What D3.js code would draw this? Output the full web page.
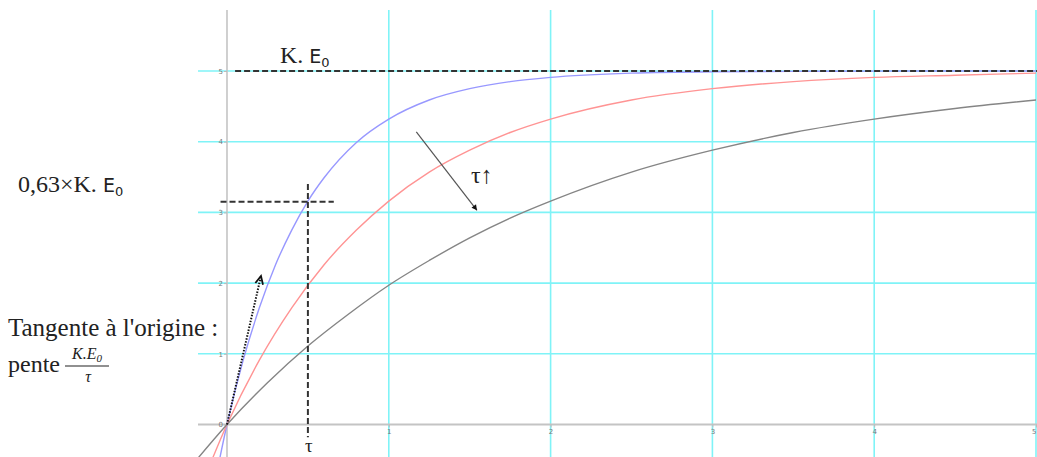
<!DOCTYPE html>
<html>
<head>
<meta charset="utf-8">
<script src="https://cdn.jsdelivr.net/npm/d3@7"></script>
<style>
  html, body { margin: 0; padding: 0; background: #fff; }
  svg { display: block; }
  .serif { font-family: "Liberation Serif", "Times New Roman", serif; fill: #222; }
  .tick text { font-family: "DejaVu Sans", sans-serif; fill: #777; }
</style>
</head>
<body>
<svg id="chart" width="1037" height="457"></svg>
<script>
// Step response u(t) of a first-order system for three time constants
const KE0 = 5;
const tauValues = [0.5, 1, 2];
const curveNames = ["tau05", "tau1", "tau2"];

const tBlue = [-0.1, 0, 0.1, 0.2, 0.3, 0.4, 0.5, 0.6, 0.8, 1, 1.25, 1.5, 1.75, 2, 2.5, 3, 3.5, 4, 4.5, 5];
const vBlue = [-1.11, 0, 0.91, 1.65, 2.26, 2.75, 3.16, 3.49, 3.99, 4.32, 4.59, 4.75, 4.85, 4.91, 4.97, 4.99, 4.995, 4.998, 5, 5];

const tRed = [-0.2, 0, 0.2, 0.4, 0.6, 0.8, 1, 1.25, 1.5, 1.75, 2, 2.5, 3, 3.5, 4, 4.5, 5];
const vRed = [-1.11, 0, 0.91, 1.65, 2.26, 2.75, 3.16, 3.57, 3.88, 4.13, 4.32, 4.59, 4.75, 4.85, 4.91, 4.94, 4.97];

const tGray = [-0.25, 0, 0.25, 0.5, 0.75, 1, 1.25, 1.5, 1.75, 2, 2.5, 3, 3.5, 4, 4.5, 5];
const vGray = [-0.67, 0, 0.59, 1.11, 1.56, 1.97, 2.32, 2.64, 2.92, 3.16, 3.57, 3.88, 4.13, 4.32, 4.47, 4.59];

const xTicks = [0, 1, 2, 3, 4, 5];
const yTicks = [0, 1, 2, 3, 4, 5];

// Annotation anchor values (data units)
const tangentEnd = [0.21, 2.1];
const tauArrow = [[1.17, 4.14], [1.545, 3.03]];
const ratio063 = 0.63;

const svg = d3.select("#chart");
const W = 1037, H = 457;

const x = d3.scaleLinear().domain([0, 5]).range([227, 1036]);
const y = d3.scaleLinear().domain([0, 5]).range([424.5, 71]);

const gridLeft = x.invert(198), gridTop = y.invert(10);

svg.append("defs").append("clipPath").attr("id", "plotclip")
  .append("rect").attr("x", 0).attr("y", 0).attr("width", W).attr("height", H);

// Grid lines
const grid = svg.append("g");
grid.selectAll("line.h").data(yTicks.filter(d => d > 0)).join("line")
  .attr("x1", x(gridLeft)).attr("x2", W)
  .attr("y1", d => y(d)).attr("y2", d => y(d))
  .attr("stroke", "#7ff3f7").attr("stroke-width", 1.6);
grid.selectAll("line.v").data(xTicks.filter(d => d > 0)).join("line")
  .attr("x1", d => x(d)).attr("x2", d => x(d))
  .attr("y1", y(gridTop)).attr("y2", H)
  .attr("stroke", "#7ff3f7").attr("stroke-width", 1.6);

// Axes lines
svg.append("line")
  .attr("x1", x(gridLeft)).attr("x2", W).attr("y1", y(0)).attr("y2", y(0))
  .attr("stroke", "#c4c4c4").attr("stroke-width", 2.2);
svg.append("line")
  .attr("x1", x(0)).attr("x2", x(0)).attr("y1", y(gridTop)).attr("y2", H)
  .attr("stroke", "#c4c4c4").attr("stroke-width", 1.6);

// Tick labels
const yAxis = d3.axisLeft(y).tickValues(yTicks).tickSize(3).tickPadding(1).tickFormat(d3.format("d"));
const gy = svg.append("g").attr("transform", `translate(${x(0)},0)`).call(yAxis);
gy.select(".domain").remove();
gy.selectAll(".tick line").attr("stroke", "#bbb");
gy.selectAll(".tick text").attr("font-size", 7);

const xAxis = d3.axisBottom(x).tickValues(xTicks.filter(d => d > 0)).tickSize(3).tickPadding(2).tickFormat(d3.format("d"));
const gx = svg.append("g").attr("transform", `translate(0,${y(0)})`).call(xAxis);
gx.select(".domain").remove();
gx.selectAll(".tick line").attr("stroke", "#bbb");
gx.selectAll(".tick text").attr("font-size", 7)
  .attr("text-anchor", d => d === xTicks[xTicks.length - 1] ? "end" : "middle");

// Curves
const line = d3.line().x(d => x(d[0])).y(d => y(d[1])).curve(d3.curveMonotoneX);
const series = [
  { name: curveNames[0], pts: d3.zip(tBlue, vBlue), color: "#9898ff" },
  { name: curveNames[1], pts: d3.zip(tRed, vRed), color: "#ff9494" },
  { name: curveNames[2], pts: d3.zip(tGray, vGray), color: "#858585" }
];
svg.append("g").attr("clip-path", "url(#plotclip)")
  .selectAll("path").data(series).join("path")
  .attr("d", d => line(d.pts))
  .attr("fill", "none").attr("stroke", d => d.color).attr("stroke-width", 1.4);

// Dashed reference lines
const dash = svg.append("g").attr("stroke", "#333").attr("stroke-width", 2)
  .attr("stroke-dasharray", "6,3").attr("fill", "none");
dash.append("line")
  .attr("x1", x(0.05)).attr("x2", W).attr("y1", y(KE0)).attr("y2", y(KE0));
dash.append("line")
  .attr("x1", x(-0.04)).attr("x2", x(0.66))
  .attr("y1", y(ratio063 * KE0)).attr("y2", y(ratio063 * KE0));
dash.append("line")
  .attr("x1", x(tauValues[0])).attr("x2", x(tauValues[0]))
  .attr("y1", y(ratio063 * KE0 + 0.25)).attr("y2", y(-0.18));

// Tangent at the origin (dotted arrow)
svg.append("line")
  .attr("x1", x(0)).attr("y1", y(0))
  .attr("x2", x(tangentEnd[0])).attr("y2", y(tangentEnd[1]))
  .attr("stroke", "#111").attr("stroke-width", 2).attr("stroke-dasharray", "1.5,1.5");
{
  const ex = x(tangentEnd[0]), ey = y(tangentEnd[1]);
  const ang = Math.atan2(ey - y(0), ex - x(0));
  const L = 9, a = 0.45;
  const p1 = [ex - L * Math.cos(ang - a), ey - L * Math.sin(ang - a)];
  const p2 = [ex - L * Math.cos(ang + a), ey - L * Math.sin(ang + a)];
  svg.append("path")
    .attr("d", `M${p1}L${ex},${ey}L${p2}`)
    .attr("fill", "none").attr("stroke", "#111").attr("stroke-width", 1.8);
}

// Arrow showing increasing tau
{
  const [s, e] = tauArrow;
  svg.append("line")
    .attr("x1", x(s[0])).attr("y1", y(s[1])).attr("x2", x(e[0])).attr("y2", y(e[1]))
    .attr("stroke", "#555").attr("stroke-width", 1.2);
  const ex = x(e[0]), ey = y(e[1]);
  const ang = Math.atan2(ey - y(s[1]), ex - x(s[0]));
  const L = 6, a = 0.5;
  svg.append("path")
    .attr("d", `M${ex},${ey}L${ex - L * Math.cos(ang - a)},${ey - L * Math.sin(ang - a)}L${ex - L * Math.cos(ang + a)},${ey - L * Math.sin(ang + a)}Z`)
    .attr("fill", "#111");
}

// Labels
const txt = svg.append("g").attr("class", "serif");

const ke = txt.append("text").attr("x", 280).attr("y", 63).attr("font-size", 24);
ke.append("tspan").text("K. ");
ke.append("tspan").attr("font-family", "DejaVu Sans, sans-serif").attr("font-size", 19).text("E");
ke.append("tspan").attr("font-family", "DejaVu Sans, sans-serif").attr("font-size", 13).attr("dy", 4).text("0");

const k63 = txt.append("text").attr("x", 18).attr("y", 192).attr("font-size", 24);
k63.append("tspan").text("0,63×K. ");
k63.append("tspan").attr("font-family", "DejaVu Sans, sans-serif").attr("font-size", 19).text("E");
k63.append("tspan").attr("font-family", "DejaVu Sans, sans-serif").attr("font-size", 13).attr("dy", 4).text("0");

txt.append("text").attr("x", 8).attr("y", 336).attr("font-size", 25).text("Tangente à l'origine :");
txt.append("text").attr("x", 8).attr("y", 372).attr("font-size", 24).text("pente");

const num = txt.append("text").attr("x", 87).attr("y", 359).attr("font-size", 16)
  .attr("font-style", "italic").attr("text-anchor", "middle");
num.append("tspan").text("K.E");
num.append("tspan").attr("font-size", 11).attr("dy", 3).text("0");
txt.append("line").attr("x1", 65).attr("x2", 109).attr("y1", 366).attr("y2", 366)
  .attr("stroke", "#222").attr("stroke-width", 1.2);
txt.append("text").attr("x", 88).attr("y", 382).attr("font-size", 16)
  .attr("font-style", "italic").attr("text-anchor", "middle").text("τ");

txt.append("text").attr("x", x(tauValues[0]) + 1).attr("y", 452).attr("font-size", 19)
  .attr("text-anchor", "middle").text("τ");

txt.append("text").attr("x", 471).attr("y", 183).attr("font-size", 24).text("τ↑");
</script>
</body>
</html>
